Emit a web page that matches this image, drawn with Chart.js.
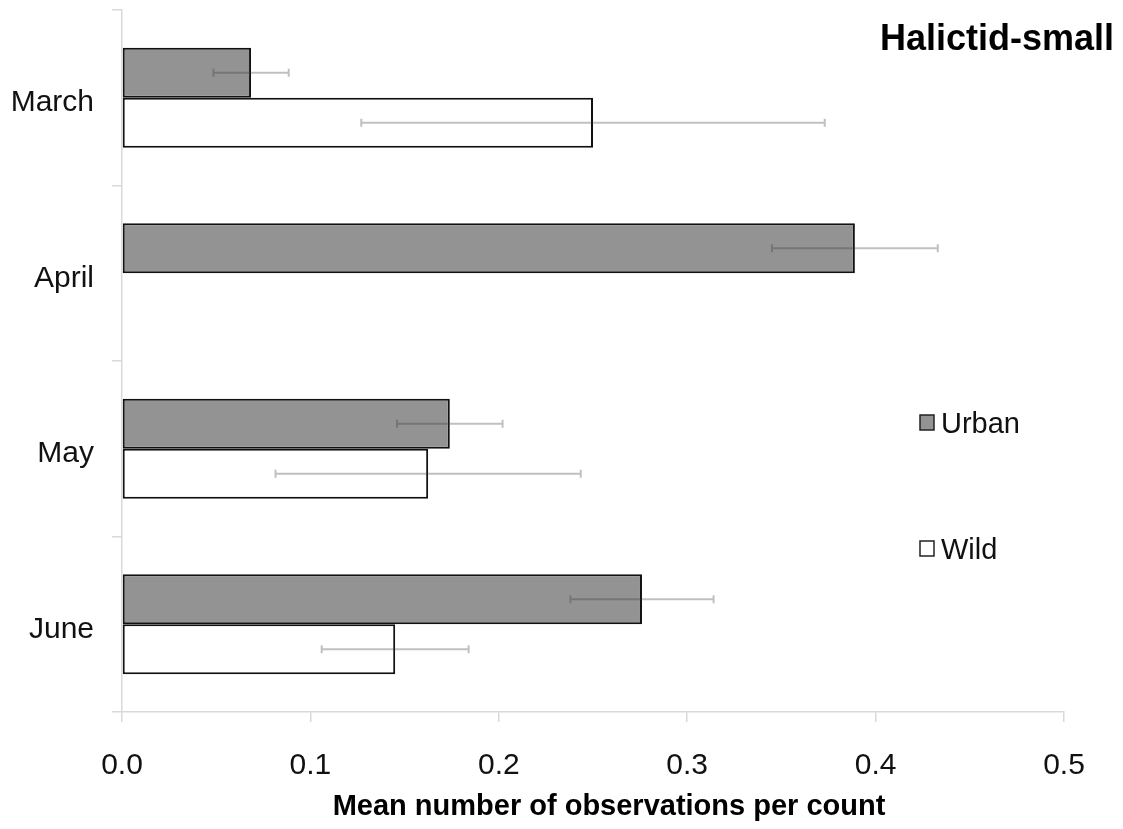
<!DOCTYPE html>
<html>
<head>
<meta charset="utf-8">
<script src="https://cdn.jsdelivr.net/npm/chart.js@4/dist/chart.umd.min.js"></script>
<style>
    html, body { margin: 0; padding: 0; background: #fff; }
    #chartHalictid { display: block; }
</style>
</head>
<body>
<canvas id="chartHalictid" width="1123" height="829"></canvas>
<script>
// Data
const months = ['March', 'April', 'May', 'June'];
const urbanMeans = [0.0685, 0.389, 0.174, 0.276];
const wildMeans = [0.25, null, 0.1625, 0.145];
const urbanErrors = [0.020, 0.044, 0.028, 0.038];
const wildErrors = [0.123, null, 0.081, 0.039];
const xTicks = [0.0, 0.1, 0.2, 0.3, 0.4, 0.5];

const FONT = "'Liberation Sans', Arial, sans-serif";
const AXIS_GRAY = '#d9d9d9';

/**
 * Error bars drawn on top of the bars
 */
const errorBarsPlugin = {
    id: 'errorBars',
    afterDatasetsDraw(chart) {
        const ctx = chart.ctx;
        const x = chart.scales.x;
        const errs = [urbanErrors, wildErrors];
        ctx.save();
        ctx.strokeStyle = 'rgba(60, 60, 60, 0.32)';
        ctx.lineWidth = 2;
        chart.data.datasets.forEach((ds, i) => {
            const meta = chart.getDatasetMeta(i);
            meta.data.forEach((bar, j) => {
                const v = ds.data[j];
                const e = errs[i][j];
                if (v == null || e == null) return;
                const x0 = x.getPixelForValue(v - e);
                const x1 = x.getPixelForValue(v + e);
                const y = bar.y;
                ctx.beginPath();
                ctx.moveTo(x0, y); ctx.lineTo(x1, y);
                ctx.moveTo(x0, y - 4); ctx.lineTo(x0, y + 4);
                ctx.moveTo(x1, y - 4); ctx.lineTo(x1, y + 4);
                ctx.stroke();
            });
        });
        ctx.restore();
    }
};

/**
 * Title, axis title and legend placed like the original
 */
const annotationsPlugin = {
    id: 'annotations',
    afterDraw(chart) {
        const ctx = chart.ctx;
        ctx.save();
        ctx.fillStyle = '#000';
        ctx.font = `bold 36px ${FONT}`;
        ctx.textAlign = 'right';
        ctx.textBaseline = 'middle';
        ctx.fillText('Halictid-small', 1114, 40);

        // x axis title (slightly right of the plot centre in the original)
        ctx.font = `bold 29px ${FONT}`;
        ctx.textAlign = 'center';
        ctx.fillText('Mean number of observations per count', 609, 807);

        const items = [
            { label: chart.data.datasets[0].label, fill: chart.data.datasets[0].backgroundColor, y: 423 },
            { label: chart.data.datasets[1].label, fill: chart.data.datasets[1].backgroundColor, y: 549 }
        ];
        ctx.font = `29px ${FONT}`;
        ctx.textAlign = 'left';
        items.forEach(it => {
            ctx.fillStyle = it.fill;
            ctx.fillRect(920, it.y - 8, 14, 15);
            ctx.strokeStyle = '#222';
            ctx.lineWidth = 1.5;
            ctx.strokeRect(920, it.y - 8, 14, 15);
            ctx.fillStyle = '#111';
            ctx.fillText(it.label, 941, it.y + 2);
        });
        ctx.restore();
    }
};

const ctx = document.getElementById('chartHalictid').getContext('2d');
window.myChart_halictid = new Chart(ctx, {
    type: 'bar',
    data: {
        labels: months,
        datasets: [
            {
                label: 'Urban',
                data: urbanMeans,
                backgroundColor: '#939393',
                borderColor: '#111',
                borderWidth: 2,
                borderSkipped: false
            },
            {
                label: 'Wild',
                data: wildMeans,
                backgroundColor: '#ffffff',
                borderColor: '#111',
                borderWidth: 2,
                borderSkipped: false
            }
        ]
    },
    options: {
        indexAxis: 'y', // Horizontal bars
        responsive: false,
        animation: false,
        categoryPercentage: 0.57,
        barPercentage: 1.0,
        layout: { padding: { top: 10, right: 59, left: 0, bottom: 0 } },
        plugins: {
            legend: { display: false },
            tooltip: { enabled: false }
        },
        scales: {
            x: {
                min: 0,
                max: 0.5,
                afterFit(scale) { scale.height = 117; },
                afterBuildTicks(scale) { scale.ticks = xTicks.map(v => ({ value: v })); },
                border: { color: AXIS_GRAY, width: 1.5 },
                grid: { drawOnChartArea: false, color: AXIS_GRAY, tickLength: 10, lineWidth: 1.5 },
                ticks: {
                    padding: 26,
                    color: '#111',
                    font: { family: FONT, size: 30 },
                    callback: v => Number(v).toFixed(1)
                }
            },
            y: {
                afterFit(scale) {
                    scale.width = 122;
                    scale.paddingTop = 0;
                    scale.paddingBottom = 0;
                },
                border: { color: AXIS_GRAY, width: 1.5 },
                grid: { drawOnChartArea: false, color: AXIS_GRAY, tickLength: 10, lineWidth: 1.5, offset: true },
                ticks: {
                    padding: 18,
                    labelOffset: 5,
                    color: '#111',
                    font: { family: FONT, size: 30 }
                }
            }
        }
    },
    plugins: [errorBarsPlugin, annotationsPlugin]
});
</script>
</body>
</html>
